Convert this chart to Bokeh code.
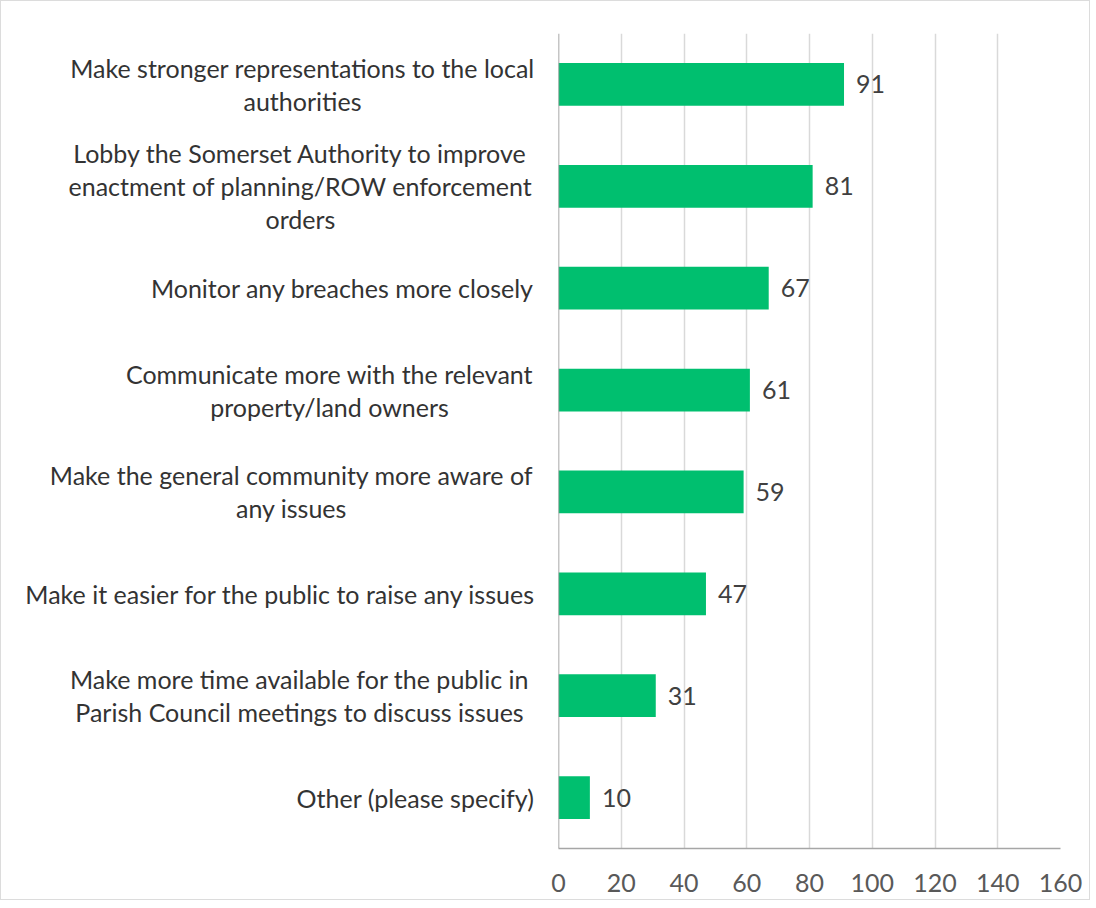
from bokeh.plotting import figure
from bokeh.models import FactorRange, Range1d, FixedTicker, Span, ColumnDataSource
from bokeh.core.properties import value
from bokeh.embed import file_html
from bokeh.resources import INLINE

categories = [
    "Make stronger representations to the local\nauthorities",
    "Lobby the Somerset Authority to improve\nenactment of planning/ROW enforcement\norders",
    "Monitor any breaches more closely",
    "Communicate more with the relevant\nproperty/land owners",
    "Make the general community more aware of\nany issues",
    "Make it easier for the public to raise any issues",
    "Make more time available for the public in\nParish Council meetings to discuss issues",
    "Other (please specify)",
]
counts = [91, 81, 67, 61, 59, 47, 31, 10]
x_ticks = [0, 20, 40, 60, 80, 100, 120, 140, 160]

# horizontal pixel offset of each label's centre from the value axis (layout only)
label_offsets = [-256, -258, -216, -229, -267, -278, -259, -143]

FONT = "Lato"

p = figure(
    width=1090, height=900,
    y_range=FactorRange(factors=list(reversed(categories))),
    x_range=Range1d(0, 160),
    output_backend="svg", toolbar_location=None,
    min_border_left=557, min_border_right=31,
    min_border_top=32, min_border_bottom=53,
)
p.styles = {"border": "1px solid #dcdcdc"}
p.outline_line_color = None
p.background_fill_color = "white"
p.border_fill_color = "white"

src = ColumnDataSource(dict(
    cat=categories, val=counts, txt=[str(v) for v in counts], off=label_offsets,
))

p.hbar(y="cat", right="val", left=0, height=0.42, source=src,
       fill_color="#00BF6F", line_color=None)

p.text(x="val", y="cat", text="txt", source=src, x_offset=12,
       text_baseline="middle", text_align="left",
       text_font=value(FONT), text_font_size="25px", text_color="#404040")

lbl = p.text(x=0, y="cat", text="cat", source=src, x_offset="off",
             text_baseline="middle", text_align="center", text_line_height=1.1,
             text_font=value(FONT), text_font_size="25px", text_color="#333333")
lbl.level = "overlay"

p.add_layout(Span(location=0, dimension="height", line_color="#8c8c8c", line_width=1.5))

p.yaxis.visible = False
p.ygrid.grid_line_color = None
p.xgrid.grid_line_color = "#d9d9d9"
p.xgrid.grid_line_width = 1.5
p.xaxis.ticker = FixedTicker(ticks=x_ticks)
p.xaxis.major_tick_line_color = None
p.xaxis.minor_tick_line_color = None
p.xaxis.axis_line_color = "#a6a6a6"
p.xaxis.axis_line_width = 1.5
p.xaxis.major_label_standoff = 19
p.xaxis.major_label_text_font = FONT
p.xaxis.major_label_text_font_size = "25px"
p.xaxis.major_label_text_color = "#595959"

open("out.html", "w").write(file_html(p, INLINE))
